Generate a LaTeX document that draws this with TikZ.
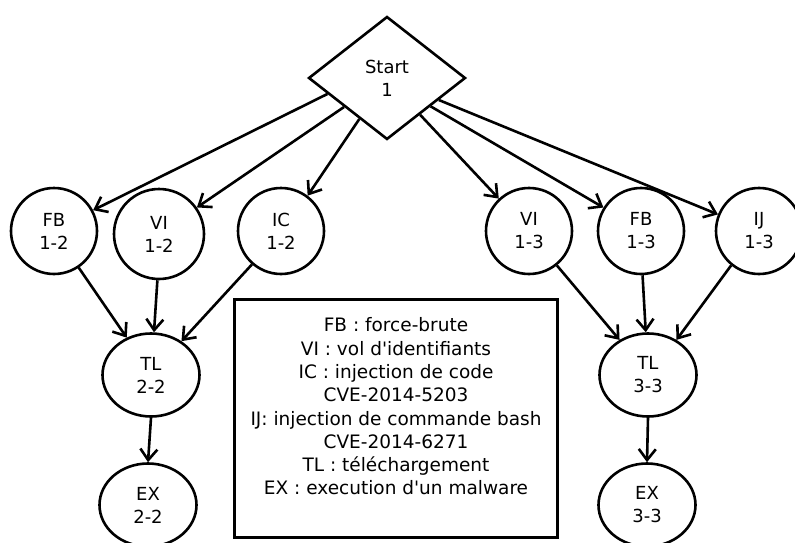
\documentclass[tikz,border=0pt]{standalone}
\usepackage{fontspec}
\setmainfont{DejaVu Sans}
\usetikzlibrary{shapes.geometric,arrows.meta}
\tikzset{
  every node/.style={font=\fontsize{18}{23}\selectfont, align=center, inner sep=0pt},
  bord/.style={draw=black, line width=2.6pt},
  startnode/.style={bord, diamond, minimum width=157pt, minimum height=123pt},
  circnode/.style={bord, circle, minimum size=86pt},
  ellnode/.style={bord, ellipse, minimum width=97pt, minimum height=83pt},
  boxnode/.style={draw=black, line width=3pt, rectangle, minimum width=323pt, minimum height=238pt},
  legendtext/.style={font=\fontsize{18.5}{23.3}\selectfont},
  arr/.style={line width=2.6pt, -{Straight Barb[length=11pt, width=17pt]}},
}
\begin{document}
\begin{tikzpicture}[x=1pt, y=-1pt]
\useasboundingbox (0,0) rectangle (795,543);
\node[startnode] (start) at (387,78) {Start\\1};
\node[circnode] (fb12) at (54,231) {FB\\1-2};
\node[circnode, minimum size=90pt] (vi12) at (159,234) {VI\\1-2};
\node[circnode] (ic12) at (281,231) {IC\\1-2};
\node[circnode] (vi13) at (529,231) {VI\\1-3};
\node[circnode] (fb13) at (641,231) {FB\\1-3};
\node[circnode] (ij13) at (759,231) {IJ\\1-3};
\node[ellnode] (tl22) at (151,375) {TL\\2-2};
\node[ellnode] (ex22) at (148,505) {EX\\2-2};
\node[ellnode] (tl33) at (648,375) {TL\\3-3};
\node[ellnode] (ex33) at (647,505) {EX\\3-3};
\node[boxnode] (legendbox) at (396,418.5) {};
\node[legendtext] (legend) at (396,406.5) {FB : force-brute\\VI : vol d\textquotesingle identifiants\\IC : injection de code\\CVE-2014-5203\\IJ: injection de commande bash\\CVE-2014-6271\\TL : téléchargement\\EX : execution d\textquotesingle un malware};
\draw[arr] (start.195) -- (fb12.28);
\draw[arr] (start.214) -- (vi12.35);
\draw[arr] (start.236.6) -- (ic12.53);
\draw[arr] (start.-48) -- (vi13.133);
\draw[arr] (start.-33) -- (fb13.148);
\draw[arr] (start.-23) -- (ij13.158);
\draw[arr] (fb12.-56) -- (tl22.123);
\draw[arr] (vi12.-92) -- (tl22.86);
\draw[arr] (ic12.229) -- (tl22.48);
\draw[arr] (tl22.south) -- (ex22.north);
\draw[arr] (vi13.-51) -- (tl33.129);
\draw[arr] (fb13.-88) -- (tl33.93);
\draw[arr] (ij13.231) -- (tl33.51);
\draw[arr] (tl33.south) -- (ex33.north);
\end{tikzpicture}
\end{document}
